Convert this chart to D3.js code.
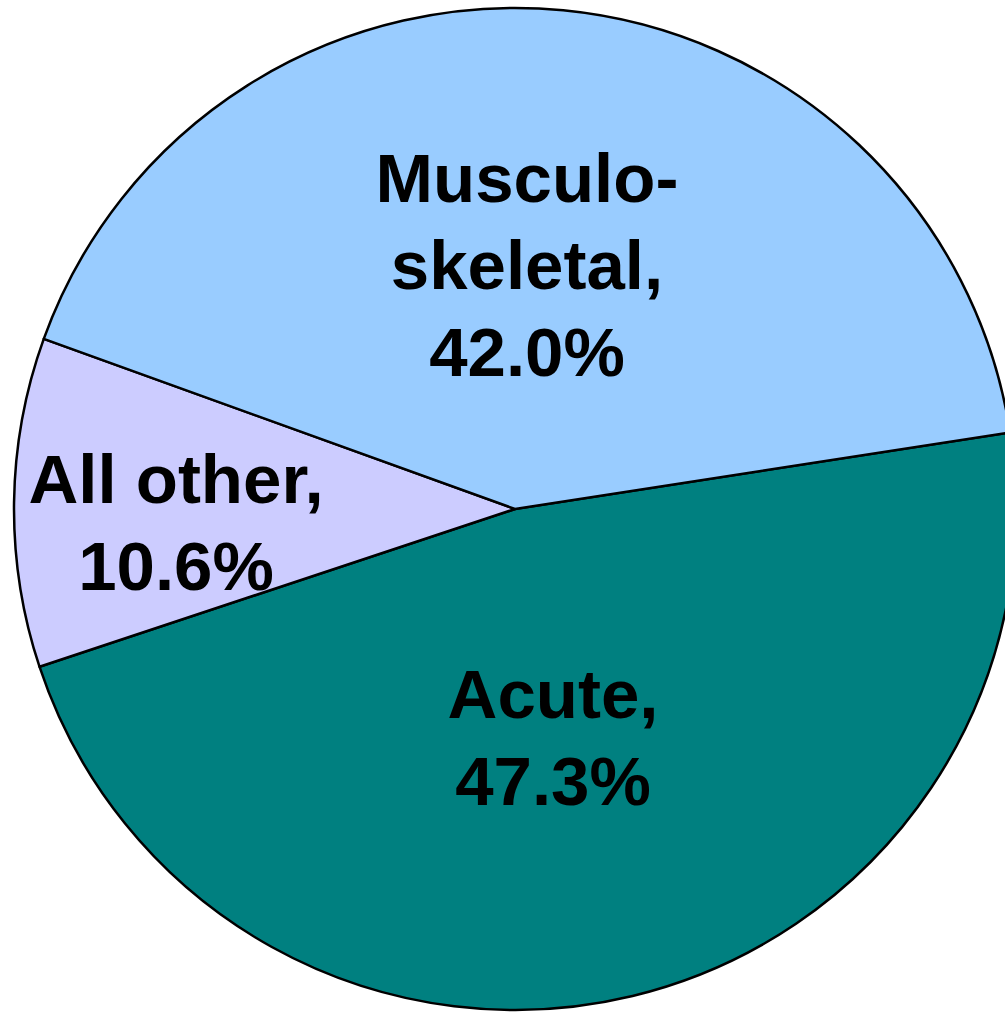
<!DOCTYPE html>
<html>
<head>
<meta charset="utf-8">
<script src="https://cdn.jsdelivr.net/npm/d3@7"></script>
<style>
  body { margin: 0; background: #fff; overflow: hidden; }
  text { font-family: "Liberation Sans", Arial, sans-serif; font-weight: bold; }
</style>
</head>
<body>
<script>
// slices in drawing order, clockwise from the Acute/Musculo border
var categories = ["Acute", "All other", "Musculo-skeletal"];
var values = [47.3, 10.6, 42.0];
var colors = ["#008080", "#CCCCFF", "#99CCFF"];
// label lines per slice
var labelLines = [
  ["Acute,", "47.3%"],
  ["All other,", "10.6%"],
  ["Musculo-", "skeletal,", "42.0%"]
];

var width = 1005, height = 1012;
var cx = 515, cy = 509, radius = 501;
var startDeg = 81.2;

var svg = d3.select("body").append("svg")
    .attr("width", width)
    .attr("height", height)
  .append("g")
    .attr("transform", "translate(" + cx + "," + cy + ")");

var color = d3.scaleOrdinal().domain(categories).range(colors);

var pie = d3.pie()
    .sort(null)
    .value(function(d) { return d.value; })
    .startAngle(startDeg * Math.PI / 180)
    .endAngle(startDeg * Math.PI / 180 + 2 * Math.PI);

var data = categories.map(function(c, i) {
  return { name: c, value: values[i], lines: labelLines[i] };
});

var arc = d3.arc().innerRadius(0).outerRadius(radius);

var arcs = pie(data);

svg.selectAll(".slice")
    .data(arcs)
  .enter().append("path")
    .attr("class", "slice")
    .attr("d", arc)
    .style("fill", function(d) { return color(d.data.name); })
    .style("stroke", "#000")
    .style("stroke-width", 2.5)
    .style("stroke-linejoin", "round");

// label anchors (centre of first baseline), relative to pie centre
var labelPos = {
  "Acute": [38, 209],
  "All other": [-339, -6],
  "Musculo-skeletal": [12, -307]
};
var lineGap = 87;

var labels = svg.selectAll(".label")
    .data(arcs)
  .enter().append("text")
    .attr("class", "label")
    .attr("text-anchor", "middle")
    .style("font-size", "69px")
    .style("fill", "#000")
    .attr("transform", function(d) {
      var p = labelPos[d.data.name];
      return "translate(" + p[0] + "," + p[1] + ")";
    });

labels.selectAll("tspan")
    .data(function(d) { return d.data.lines; })
  .enter().append("tspan")
    .attr("x", 0)
    .attr("y", function(d, i) { return i * lineGap; })
    .text(function(d) { return d; });
</script>
</body>
</html>
